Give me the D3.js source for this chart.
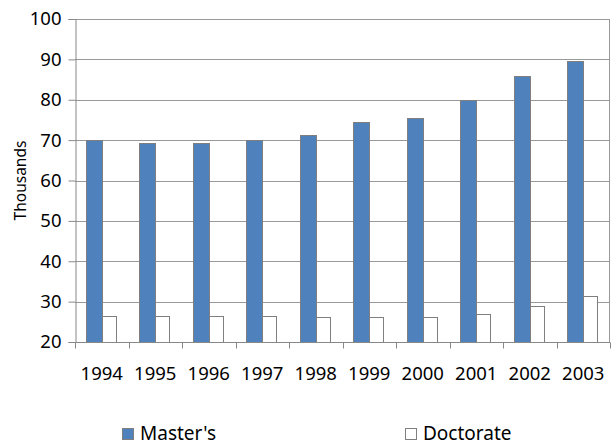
<!DOCTYPE html>
<html>
<head>
<meta charset="utf-8">
<script src="https://cdn.jsdelivr.net/npm/d3@7"></script>
<style>
  body { margin: 0; background: #fff; }
  svg { font-family: "Noto Sans", sans-serif; }
</style>
</head>
<body>
<svg width="611" height="444"></svg>
<script>
// データ
var years = ["1994", "1995", "1996", "1997", "1998", "1999", "2000", "2001", "2002", "2003"];
var masters = [70.0, 69.2, 69.2, 70.0, 71.2, 74.4, 75.4, 79.9, 85.9, 89.6];
var doctorate = [26.5, 26.5, 26.5, 26.5, 26.1, 26.1, 26.1, 27.0, 29.0, 31.5];
var yTicks = [20, 30, 40, 50, 60, 70, 80, 90, 100];
var seriesNames = ["Master's", "Doctorate"];

var svg = d3.select("svg");
// プロット領域 (window.top と被らないように名前を変える)
var pL = 75, pR = 610, pT = 19, pB = 342;

var x = d3.scaleBand().domain(years).range([pL, pR]);
var y = d3.scaleLinear().domain([20, 100]).range([pB, pT]);

// グリッド線
svg.append("g").selectAll("line")
    .data(yTicks.slice(1))
    .enter().append("line")
    .attr("x1", pL).attr("x2", pR)
    .attr("y1", d => Math.round(y(d)) + 0.5)
    .attr("y2", d => Math.round(y(d)) + 0.5)
    .attr("stroke", "#999")
;
// 右の枠線
svg.append("line")
    .attr("x1", pR - 0.5).attr("x2", pR - 0.5)
    .attr("y1", pT).attr("y2", pB)
    .attr("stroke", "#999")
;

// 棒
var barW = 16;
function groupStart(d){ return Math.round(x(d) + (x.bandwidth() - barW * 2) / 2); }

svg.append("g").selectAll("rect")
    .data(years)
    .enter().append("rect")
    .attr("x", (d, i) => groupStart(d) + 0.5)
    .attr("y", (d, i) => Math.round(y(masters[i])) + 0.5)
    .attr("width", barW)
    .attr("height", (d, i) => Math.round(y(20)) - Math.round(y(masters[i])))
    .attr("fill", "#4f81bd")
    .attr("stroke", "#7f7f7f")
;
svg.append("g").selectAll("rect")
    .data(years)
    .enter().append("rect")
    .attr("x", (d, i) => groupStart(d) + barW + 0.5)
    .attr("y", (d, i) => Math.round(y(doctorate[i])) + 0.5)
    .attr("width", barW - 2)
    .attr("height", (d, i) => Math.round(y(20)) - Math.round(y(doctorate[i])))
    .attr("fill", "#fff")
    .attr("stroke", "#7f7f7f")
;

// y軸
var yAxis = svg.append("g")
    .attr("transform", "translate(" + (pL + 0.5) + ",0)")
    .call(d3.axisLeft(y).tickValues(yTicks).tickSize(7).tickPadding(7));
yAxis.selectAll("text").attr("font-size", 18.5).attr("fill", "#000")
    .attr("font-family", "'Noto Sans', sans-serif");
yAxis.selectAll("line, path").attr("stroke", "#888");

// x軸
var xAxis = svg.append("g")
    .attr("transform", "translate(0," + (pB + 0.5) + ")");
xAxis.append("line")
    .attr("x1", pL).attr("x2", pR)
    .attr("stroke", "#888");
xAxis.selectAll(".tk")
    .data(years.concat(["end"]))
    .enter().append("line")
    .attr("x1", (d, i) => Math.round(pL + i * x.step()) + 0.5)
    .attr("x2", (d, i) => Math.round(pL + i * x.step()) + 0.5)
    .attr("y1", 0).attr("y2", 6)
    .attr("stroke", "#888");
xAxis.selectAll("text")
    .data(years)
    .enter().append("text")
    .attr("x", d => x(d) + x.bandwidth() / 2)
    .attr("y", 37.5)
    .attr("text-anchor", "middle")
    .attr("font-size", 18.5)
    .text(d => d);

// y軸タイトル
svg.append("text")
    .attr("transform", "translate(26," + ((pT + pB) / 2) + ") rotate(-90)")
    .attr("text-anchor", "middle")
    .attr("font-size", 15.5)
    .text("Thousands");

// 凡例
var legendX = [122, 405];
var legend = svg.append("g").selectAll("g")
    .data(seriesNames)
    .enter().append("g")
    .attr("transform", (d, i) => "translate(" + legendX[i] + ",428)");
legend.append("rect")
    .attr("x", 0.5).attr("y", 0.5)
    .attr("width", 11).attr("height", 11)
    .attr("fill", (d, i) => i == 0 ? "#4f81bd" : "#fff")
    .attr("stroke", "#7f7f7f");
legend.append("text")
    .attr("x", 18).attr("y", 11.5)
    .attr("font-size", 19)
    .text(d => d);
</script>
</body>
</html>
